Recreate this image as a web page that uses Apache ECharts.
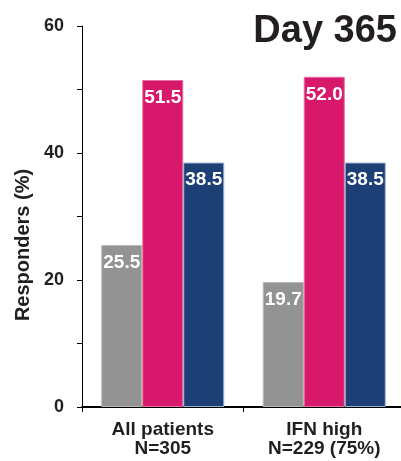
<!DOCTYPE html>
<html>
<head>
<meta charset="utf-8">
<script src="https://cdn.jsdelivr.net/npm/echarts@6/dist/echarts.min.js"></script>
<style>
  html, body { margin: 0; padding: 0; background: #ffffff; }
  #chart { width: 401px; height: 461px; }
</style>
</head>
<body>
<div id="chart"></div>
<script>
// Responder rates at day 365, by patient population
const categories = ['All patients\nN=305', 'IFN high\nN=229 (75%)'];
const seriesGray = [25.5, 19.7];
const seriesPink = [51.5, 52.0];
const seriesBlue = [38.5, 38.5];
const yTicks = [0, 20, 40, 60];

const FONT = 'Liberation Sans, Arial, Helvetica, sans-serif';
const INK = '#231f20';

function barSeries(name, data, color, border) {
  return {
    name: name,
    type: 'bar',
    data: data,
    barWidth: 41,
    barGap: '0%',
    itemStyle: { color: color, borderColor: border, borderWidth: 1 },
    label: {
      show: true,
      position: 'insideTop',
      distance: 8,
      color: '#ffffff',
      fontFamily: FONT,
      fontWeight: 'bold',
      fontSize: 19,
      formatter: p => p.value.toFixed(1)
    }
  };
}

const chart = echarts.init(document.getElementById('chart'), null, { renderer: 'canvas' });
chart.setOption({
  animation: false,
  backgroundColor: '#ffffff',
  title: {
    text: 'Day 365',
    right: 4,
    top: 13,
    padding: 0,
    textStyle: { fontFamily: FONT, fontWeight: 'bold', fontSize: 38, color: INK }
  },
  grid: {
    left: 82, top: 26, width: 323, height: 381,
    containLabel: false,
    outerBoundsMode: 'none'
  },
  xAxis: {
    type: 'category',
    data: categories,
    axisLine: { lineStyle: { color: '#000000', width: 2 } },
    axisTick: { show: true, length: 5, lineStyle: { color: '#000000', width: 1 } },
    axisLabel: {
      margin: 13,
      color: INK,
      fontFamily: FONT,
      fontWeight: 'bold',
      fontSize: 19,
      lineHeight: 19
    }
  },
  yAxis: {
    type: 'value',
    min: yTicks[0],
    max: yTicks[yTicks.length - 1],
    interval: 20,
    name: 'Responders (%)',
    nameLocation: 'middle',
    nameGap: 48,
    nameTextStyle: {
      fontFamily: FONT, fontWeight: 'bold', fontSize: 20, color: INK,
      padding: [0, 57, 0, 0]
    },
    axisLine: { show: true, lineStyle: { color: '#000000', width: 1 } },
    axisTick: { show: true, length: 5, lineStyle: { color: '#000000' } },
    minorTick: { show: true, splitNumber: 2, length: 5, lineStyle: { color: '#000000' } },
    splitLine: { show: false },
    axisLabel: {
      margin: 18,
      color: INK,
      fontFamily: FONT,
      fontWeight: 'bold',
      fontSize: 18
    }
  },
  series: [
    barSeries('gray', seriesGray, '#939393', '#b8b8b8'),
    barSeries('pink', seriesPink, '#d8186a', '#e76da0'),
    barSeries('blue', seriesBlue, '#1c3f76', '#9fb1d0')
  ]
});
</script>
</body>
</html>
